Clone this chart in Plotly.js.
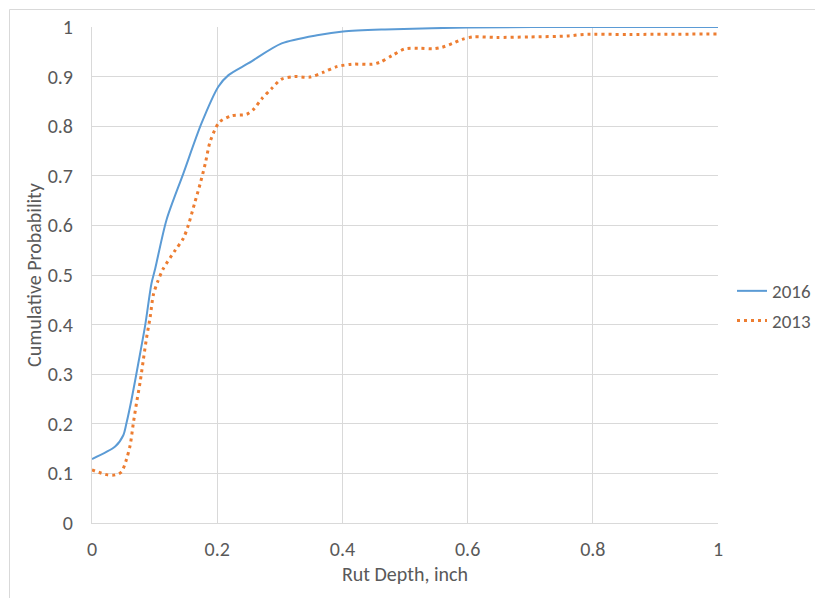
<!DOCTYPE html>
<html>
<head>
<meta charset="utf-8">
<script src="https://cdn.plot.ly/plotly-3.0.1.min.js"></script>
<style>
  html, body { margin: 0; padding: 0; background: #ffffff; }
  #chart { width: 815px; height: 598px; }
</style>
</head>
<body>
<div id="chart"></div>
<script>
// Series 2016
const depth2016 = [0, 0.037, 0.05, 0.055, 0.063, 0.074, 0.085, 0.095, 0.101, 0.119, 0.146, 0.175, 0.202, 0.218, 0.25, 0.303, 0.362, 0.401, 0.468, 0.6, 0.8, 1.0];
const prob2016  = [0.129, 0.154, 0.177, 0.201, 0.248, 0.322, 0.399, 0.483, 0.513, 0.611, 0.705, 0.806, 0.88, 0.903, 0.927, 0.967, 0.984, 0.991, 0.995, 0.999, 1.0, 1.0];

// Series 2013
const depth2013 = [0, 0.025, 0.037, 0.047, 0.055, 0.061, 0.066, 0.071, 0.077, 0.082, 0.087, 0.093, 0.098, 0.105, 0.114, 0.133, 0.146, 0.154, 0.164, 0.173, 0.181, 0.188, 0.196, 0.204, 0.223, 0.247, 0.258, 0.271, 0.287, 0.303, 0.324, 0.348, 0.37, 0.391, 0.415, 0.448, 0.46, 0.479, 0.5, 0.524, 0.545, 0.559, 0.578, 0.591, 0.609, 0.646, 0.7, 0.761, 0.785, 0.859, 1.0];
const prob2013  = [0.107, 0.097, 0.097, 0.103, 0.128, 0.157, 0.201, 0.241, 0.285, 0.329, 0.372, 0.416, 0.46, 0.487, 0.513, 0.55, 0.574, 0.601, 0.645, 0.685, 0.725, 0.766, 0.792, 0.809, 0.821, 0.824, 0.834, 0.855, 0.876, 0.895, 0.9, 0.899, 0.909, 0.92, 0.925, 0.925, 0.929, 0.942, 0.956, 0.957, 0.956, 0.959, 0.968, 0.975, 0.98, 0.979, 0.98, 0.982, 0.985, 0.985, 0.986];

const xTicks = [0, 0.2, 0.4, 0.6, 0.8, 1];
const xTickLabels = ["0", "0.2", "0.4", "0.6", "0.8", "1"];
const yTicks = [0, 0.1, 0.2, 0.3, 0.4, 0.5, 0.6, 0.7, 0.8, 0.9, 1];
const yTickLabels = ["0", "0.1", "0.2", "0.3", "0.4", "0.5", "0.6", "0.7", "0.8", "0.9", "1"];

const FONT = "Carlito, Calibri, 'Liberation Sans', Arial, sans-serif";
const GRID = "#d9d9d9";
const FS = 20;

const traces = [
  {
    x: depth2016, y: prob2016, name: "2016", type: "scatter", mode: "lines",
    line: { color: "#5B9BD5", width: 2, shape: "spline", smoothing: 0.8 },
    legendgroup: "a"
  },
  {
    x: depth2013, y: prob2013, name: "2013", type: "scatter", mode: "lines",
    line: { color: "#ED7D31", width: 3, dash: "3px,4px", shape: "spline", smoothing: 0.8 },
    legendgroup: "b"
  }
];

const layout = {
  width: 815, height: 598,
  margin: { l: 92, r: 97, t: 27, b: 75, autoexpand: false },
  paper_bgcolor: "rgba(0,0,0,0)",
  plot_bgcolor: "#ffffff",
  font: { family: FONT, size: FS, color: "#595959" },
  showlegend: true,
  legend: {
    x: (732 - 92) / 626, y: (523 - 306) / 496, xanchor: "left", yanchor: "middle",
    font: { family: FONT, size: 19, color: "#595959" },
    traceorder: "grouped", tracegroupgap: 2,
    bgcolor: "rgba(0,0,0,0)"
  },
  xaxis: {
    range: [0, 1], tickvals: xTicks, ticktext: xTickLabels,
    showgrid: true, gridcolor: GRID, gridwidth: 1,
    showline: true, linecolor: GRID, linewidth: 1, mirror: false,
    zeroline: false, ticks: "", ticklabelstandoff: 8,
    title: { text: "Rut Depth, inch", font: { family: FONT, size: FS, color: "#595959" }, standoff: 6 }
  },
  yaxis: {
    range: [0, 1], tickvals: yTicks, ticktext: yTickLabels,
    showgrid: true, gridcolor: GRID, gridwidth: 1,
    showline: true, linecolor: GRID, linewidth: 1,
    zeroline: false, ticks: "", ticklabelstandoff: 14,
    title: { text: "Cumulative Probability", font: { family: FONT, size: FS, color: "#595959" }, standoff: 0 }
  },
  shapes: [
    { type: "rect", xref: "paper", yref: "paper",
      x0: (9.5 - 92) / 626, x1: (830 - 92) / 626,
      y0: (523 - 610) / 496, y1: (523 - 9.5) / 496,
      line: { color: GRID, width: 1 }, fillcolor: "rgba(0,0,0,0)", layer: "below" }
  ]
};

Plotly.newPlot("chart", traces, layout, { displayModeBar: false, staticPlot: true });
</script>
</body>
</html>
